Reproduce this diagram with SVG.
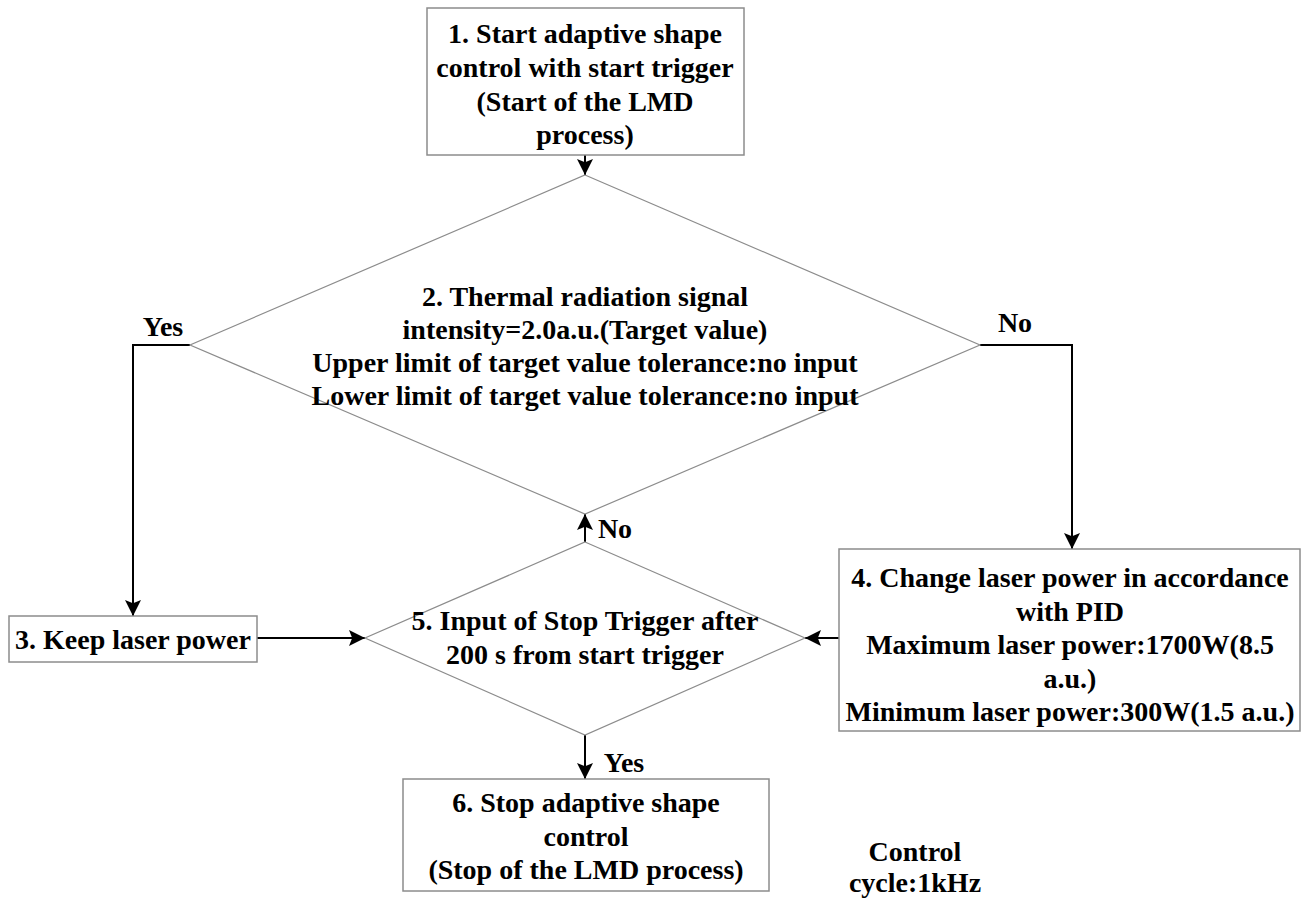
<svg xmlns="http://www.w3.org/2000/svg" width="1307" height="899" viewBox="0 0 1307 899">
<style>
.box{fill:#fff;stroke:#8c8c8c;stroke-width:1.5}
.dia{fill:none;stroke:#8c8c8c;stroke-width:1.2}
.con{fill:none;stroke:#000;stroke-width:2}
text{font-family:"Liberation Serif","Times New Roman",serif;font-weight:bold;font-size:28px;fill:#000;text-anchor:middle}
</style>
<defs>
<marker id="ahl" viewBox="0 0 10 10" refX="10" refY="5" markerWidth="16" markerHeight="16" markerUnits="userSpaceOnUse" orient="auto">
<path d="M0,0 L10,5 L0,10 L2,5 Z" fill="#000"/>
</marker>
</defs>
<g id="connectors">
<line class="con" x1="585" y1="155" x2="585" y2="175" marker-end="url(#ahl)"/>
<polyline class="con" points="190,345 133,345 133,616" marker-end="url(#ahl)"/>
<polyline class="con" points="980,345 1072,345 1072,549" marker-end="url(#ahl)"/>
<line class="con" x1="257" y1="638" x2="365" y2="638" marker-end="url(#ahl)"/>
<line class="con" x1="839" y1="638" x2="805" y2="638" marker-end="url(#ahl)"/>
<line class="con" x1="585" y1="542" x2="585" y2="514" marker-end="url(#ahl)"/>
<line class="con" x1="585" y1="735" x2="585" y2="779" marker-end="url(#ahl)"/>
<text x="163" y="336">Yes</text>
<text x="1015" y="332">No</text>
<text x="615" y="538">No</text>
<text x="624" y="772">Yes</text>
</g>
<g id="n1">
<rect class="box" x="427" y="8" width="317" height="147"/>
<text x="585" y="43">1. Start adaptive shape</text>
<text x="585" y="77">control with start trigger</text>
<text x="585" y="111">(Start of the LMD</text>
<text x="585" y="144">process)</text>
</g>
<g id="n2">
<polygon class="dia" points="585,175 980,345 585,514 190,345"/>
<text x="585" y="306">2. Thermal radiation signal</text>
<text x="585" y="339">intensity=2.0a.u.(Target value)</text>
<text x="585" y="372">Upper limit of target value tolerance:no input</text>
<text x="585" y="405">Lower limit of target value tolerance:no input</text>
</g>
<g id="n3">
<rect class="box" x="9" y="616" width="248" height="46"/>
<text x="133" y="649">3. Keep laser power</text>
</g>
<g id="n4">
<rect class="box" x="839" y="549" width="461" height="182"/>
<text x="1070" y="587">4. Change laser power in accordance</text>
<text x="1070" y="621">with PID</text>
<text x="1070" y="654">Maximum laser power:1700W(8.5</text>
<text x="1070" y="688">a.u.)</text>
<text x="1070" y="721">Minimum laser power:300W(1.5 a.u.)</text>
</g>
<g id="n5">
<polygon class="dia" points="585,542 805,638 585,735 365,638"/>
<text x="585" y="630">5. Input of Stop Trigger after</text>
<text x="585" y="664">200 s from start trigger</text>
</g>
<g id="n6">
<rect class="box" x="403" y="779" width="366" height="112"/>
<text x="586" y="812">6. Stop adaptive shape</text>
<text x="586" y="846">control</text>
<text x="586" y="879">(Stop of the LMD process)</text>
</g>
<g id="note">
<text x="915" y="861">Control</text>
<text x="915" y="892">cycle:1kHz</text>
</g>
</svg>
